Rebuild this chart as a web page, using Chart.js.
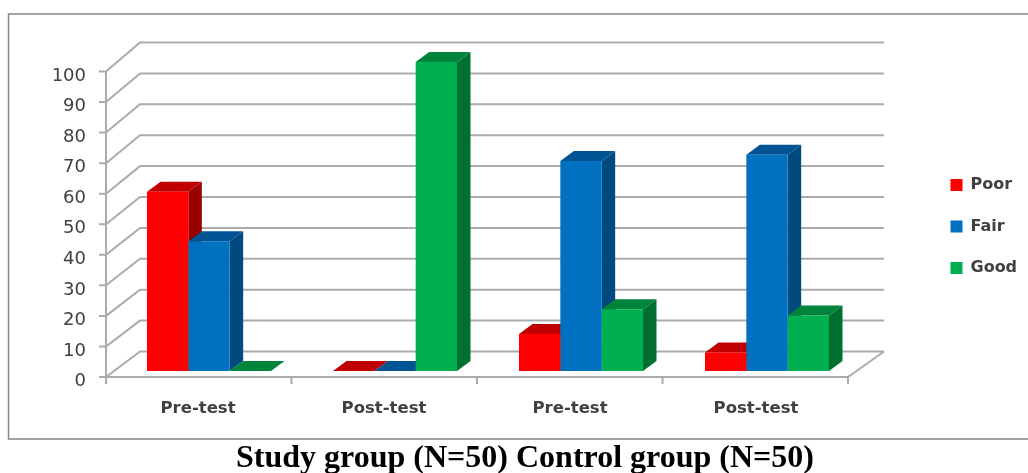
<!DOCTYPE html>
<html>
<head>
<meta charset="utf-8">
<style>
  html, body { margin: 0; padding: 0; background: #fff; }
  canvas { display: block; filter: blur(0.4px); }
</style>
<script src="https://cdn.jsdelivr.net/npm/chart.js@4"></script>
</head>
<body>
<canvas id="myChart" width="1028" height="473"></canvas>
<script>
const categories = ['Pre-test', 'Post-test', 'Pre-test', 'Post-test'];
const poorValues = [58, 0, 12, 6];
const fairValues = [42, 0, 68, 70];
const goodValues = [0, 100, 20, 18];

const frontColors = ['#FF0000', '#0070C0', '#00B050'];
const topColors = ['#C00000', '#005494', '#00843C'];
const sideColors = ['#990000', '#004A80', '#007030'];

const textColor = '#404040';
const gridColor = '#ABABAB';

// how far the bars stick out backwards
const barDepthX = 13.5;
const barDepthY = 10;

// walls, offset from the plane the bars stand on
const frontY = 6;
const backX = 24;
const backY = -19.5;

const faces3d = {
  id: 'faces3d',
  afterLayout(chart) {
    // legend and title sit outside what the layout would give them
    const legend = chart.legend;
    legend.left = 925;
    legend.right = 1028;
    legend.top = 151.5;
    legend.bottom = 430;
    const title = chart.titleBlock;
    title.left = 0;
    title.right = 1050;
    title.top = 443;
  },
  beforeDraw(chart) {
    const ctx = chart.ctx;
    ctx.save();
    ctx.strokeStyle = '#868686';
    ctx.lineWidth = 1.5;
    ctx.beginPath();
    ctx.moveTo(1028, 14);
    ctx.lineTo(8.5, 14);
    ctx.lineTo(8.5, 439);
    ctx.lineTo(1028, 439);
    ctx.stroke();
    ctx.restore();
  },
  beforeDatasetsDraw(chart) {
    const ctx = chart.ctx;
    const x = chart.scales.x;
    const y = chart.scales.y;
    const yFront = chart.scales.yFront;
    const leftX = x.left - 10;
    const rightX = x.right - 12;

    ctx.save();
    ctx.strokeStyle = gridColor;
    ctx.lineWidth = 2;

    // grid lines on the left and back walls, and y tick marks
    yFront.ticks.forEach(function (t) {
      const fy = yFront.getPixelForValue(t.value) + frontY;
      const by = y.getPixelForValue(t.value) + backY;
      ctx.beginPath();
      ctx.moveTo(leftX - 7, fy);
      ctx.lineTo(leftX, fy);
      ctx.lineTo(x.left + backX, by);
      ctx.lineTo(x.right + backX, by);
      ctx.stroke();
    });

    // y axis line, x axis line, floor edge
    const zeroFront = yFront.getPixelForValue(0) + frontY;
    const zeroBack = y.getPixelForValue(0) + backY;
    ctx.beginPath();
    ctx.moveTo(leftX, yFront.getPixelForValue(100) + frontY);
    ctx.lineTo(leftX, zeroFront);
    ctx.lineTo(rightX, zeroFront);
    ctx.lineTo(x.right + backX, zeroBack);
    ctx.stroke();

    // x tick marks between the groups
    for (let i = 0; i <= categories.length; i++) {
      const tx = leftX + (rightX - leftX) * i / categories.length;
      ctx.beginPath();
      ctx.moveTo(tx, zeroFront);
      ctx.lineTo(tx, zeroFront + 7);
      ctx.stroke();
    }

    // side and top of the bars, left to right, the library draws the fronts after
    categories.forEach(function (c, i) {
      chart.data.datasets.forEach(function (ds, d) {
        const bar = chart.getDatasetMeta(d).data[i];
        const l = bar.x - bar.width / 2;
        const r = bar.x + bar.width / 2;
        const t = bar.y;
        const b = bar.base;

        ctx.fillStyle = sideColors[d];
        ctx.beginPath();
        ctx.moveTo(r, t);
        ctx.lineTo(r + barDepthX, t - barDepthY);
        ctx.lineTo(r + barDepthX, b - barDepthY);
        ctx.lineTo(r, b);
        ctx.closePath();
        ctx.fill();

        ctx.fillStyle = topColors[d];
        ctx.beginPath();
        ctx.moveTo(l, t);
        ctx.lineTo(l + barDepthX, t - barDepthY);
        ctx.lineTo(r + barDepthX, t - barDepthY);
        ctx.lineTo(r, t);
        ctx.closePath();
        ctx.fill();
      });
    });
    ctx.restore();
  }
};

new Chart(document.getElementById('myChart'), {
  type: 'bar',
  data: {
    labels: categories,
    datasets: [
      { label: 'Poor', data: poorValues, backgroundColor: frontColors[0] },
      { label: 'Fair', data: fairValues, backgroundColor: frontColors[1] },
      { label: 'Good', data: goodValues, backgroundColor: frontColors[2] }
    ]
  },
  options: {
    responsive: false,
    animation: false,
    layout: { padding: { left: 8, right: 168, top: 62, bottom: 10 } },
    datasets: { bar: { categoryPercentage: 2 / 3, barPercentage: 1 } },
    scales: {
      x: {
        grid: { display: false, drawTicks: false },
        border: { display: false },
        afterFit(scale) { scale.height = 60; },
        ticks: {
          padding: 28,
          labelOffset: -11,
          color: textColor,
          maxRotation: 0,
          font: { family: 'DejaVu Sans', size: 16.5, weight: 'bold' }
        }
      },
      y: { display: false, min: 0, max: 100 },
      yFront: {
        type: 'linear',
        position: 'left',
        min: 0,
        max: 101.15,
        grid: { display: false, drawTicks: false },
        border: { display: false },
        afterFit(scale) { scale.width = 108; },
        ticks: {
          stepSize: 10,
          includeBounds: false,
          padding: 30,
          labelOffset: 10.5,
          color: textColor,
          font: { family: 'DejaVu Sans', size: 18 }
        }
      }
    },
    plugins: {
      tooltip: { enabled: false },
      legend: {
        position: 'chartArea',
        align: 'start',
        labels: {
          boxWidth: 12,
          boxHeight: 12,
          padding: 25.5,
          color: textColor,
          font: { family: 'DejaVu Sans', size: 16, weight: 'bold' }
        }
      },
      title: {
        display: true,
        position: 'bottom',
        text: 'Study group (N=50) Control group (N=50)',
        color: '#000000',
        padding: 0,
        font: { family: 'Liberation Serif', size: 32, weight: 'bold', lineHeight: 1 }
      }
    }
  },
  plugins: [faces3d]
});
</script>
</body>
</html>
